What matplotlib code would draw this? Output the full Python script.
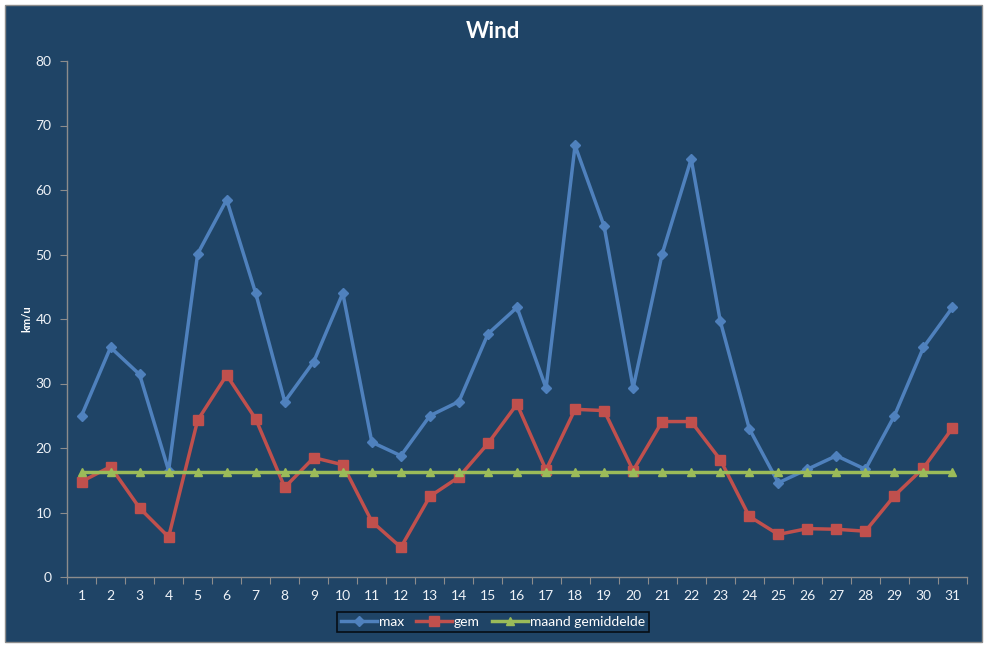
import matplotlib
matplotlib.use("Agg")
import matplotlib.pyplot as plt
from matplotlib.patches import Rectangle
import numpy as np

days = list(range(1, 32))
max_wind = [25.0, 35.6, 31.4, 16.5, 50.1, 58.5, 44.0, 27.2, 33.4, 44.0,
            20.9, 18.8, 25.0, 27.2, 37.7, 41.8, 29.3, 66.9, 54.4, 29.3,
            50.1, 64.8, 39.7, 23.0, 14.6, 16.7, 18.8, 16.7, 25.0, 35.6, 41.8]
gem_wind = [14.8, 17.1, 10.7, 6.2, 24.3, 31.3, 24.5, 13.9, 18.5, 17.4,
            8.6, 4.6, 12.5, 15.5, 20.7, 26.8, 16.6, 26.0, 25.8, 16.5,
            24.1, 24.1, 18.2, 9.4, 6.6, 7.5, 7.4, 7.1, 12.6, 16.9, 23.1]
maand_gem = [16.3] * 31

plt.rcParams['font.family'] = ['Lato', 'DejaVu Sans']

bg = '#1F4466'
W, H = 987, 648
fig = plt.figure(figsize=(W / 100, H / 100), dpi=100)
fig.patch.set_facecolor('white')
fig.patches.append(Rectangle((5 / W, 6 / H), 977 / W, 637 / H, transform=fig.transFigure,
                             facecolor=bg, edgecolor='#8C8C8C', linewidth=1, zorder=-10))

ax = fig.add_axes([67 / W, 1 - 577 / H, 900 / W, 516 / H])
ax.set_facecolor(bg)
ax.set_zorder(1)

ax.plot(days, max_wind, color='#4F81BD', marker='D', markersize=5, linewidth=2.5, label='max', zorder=3)
ax.plot(days, gem_wind, color='#C0504D', marker='s', markersize=7, linewidth=2.5, label='gem', zorder=4)
ax.plot(days, maand_gem, color='#9BBB59', marker='^', markersize=6, linewidth=2.5,
        label='maand gemiddelde', zorder=5)

ax.set_xlim(0.5, 31.5)
ax.set_ylim(0, 80)
ax.set_yticks(range(0, 81, 10))
ax.set_xticks(np.arange(0.5, 32, 1))
ax.set_xticklabels([])
ax.set_xticks(days, minor=True)
ax.set_xticklabels([str(d) for d in days], minor=True)
ax.tick_params(axis='x', which='major', length=5, color='#8C8C8C', direction='out')
ax.tick_params(axis='x', which='minor', length=0, pad=9, labelsize=10, labelcolor='#EEF2F7')
ax.tick_params(axis='y', length=5, color='#8C8C8C', direction='out', labelsize=10,
               labelcolor='#EEF2F7', pad=6)
for s in ['top', 'right']:
    ax.spines[s].set_visible(False)
for s in ['left', 'bottom']:
    ax.spines[s].set_color('#8C8C8C')
    ax.spines[s].set_linewidth(1)

ax.set_ylabel('km/u', color='white', fontsize=8, fontweight='bold', labelpad=2)
fig.text(493 / W, 1 - 32 / H, 'Wind', color='white', fontsize=16, fontweight='bold',
         ha='center', va='center')

leg = fig.legend(loc='center', bbox_to_anchor=(493 / W, 1 - 622 / H), ncol=3, frameon=True,
                 fontsize=10, handlelength=2.6, handletextpad=0.1, columnspacing=0.9,
                 borderpad=0.3, fancybox=False)
leg.get_frame().set_facecolor(bg)
leg.get_frame().set_edgecolor('black')
leg.get_frame().set_linewidth(1.2)
for t in leg.get_texts():
    t.set_color('white')

fig.savefig('out.png', dpi=100, facecolor='white')
